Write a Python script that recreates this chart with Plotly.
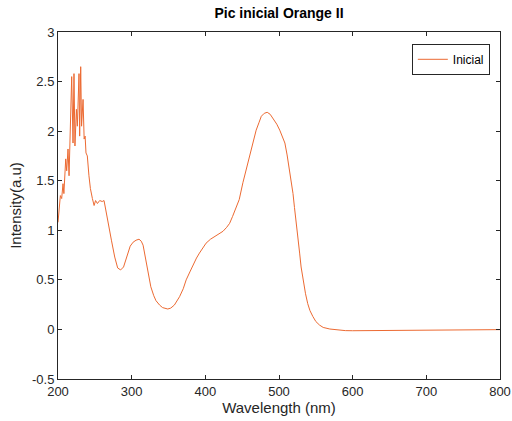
import plotly.graph_objects as go

wavelength = [200, 201.4, 203.2, 205, 206.8, 208, 210.5, 211.8, 213.6, 215, 216.3, 218.6, 220.4, 221.7,
              223, 225, 226.3, 228.5, 229.4, 230.8, 232, 234, 235.5, 236.8, 238, 239.8,
              242, 244, 246.7, 249, 251, 253.5, 256.6, 260, 262.5, 264.7,
              268, 272.5, 277, 281, 285, 289, 292, 295, 298, 302, 306, 310, 313, 315.5, 318,
              322, 326, 330, 333, 338, 342, 349, 353, 358, 365, 370, 374, 379, 383, 388, 392, 397, 401,
              407, 413, 418, 424, 429, 433, 437, 442, 446, 451, 455, 460, 465, 469, 473, 476, 480, 484, 488,
              492, 497, 501, 505, 508, 511, 513.6, 516, 519, 521, 523.6, 526, 528, 530, 532.6, 536,
              539, 542, 546, 550, 555, 560, 569, 580, 590, 600, 650, 700, 750, 800]
intensity = [1.08, 1.20, 1.35, 1.32, 1.47, 1.37, 1.72, 1.60, 1.82, 1.55, 1.85, 2.55, 1.88, 2.58,
             1.85, 2.22, 2.05, 2.58, 1.95, 2.65, 2.05, 2.32, 1.92, 1.95, 1.78, 1.75,
             1.55, 1.42, 1.32, 1.25, 1.30, 1.27, 1.30, 1.29, 1.30, 1.22,
             1.07, 0.90, 0.73, 0.62, 0.60, 0.63, 0.70, 0.77, 0.84, 0.88, 0.90, 0.91, 0.89, 0.85, 0.75,
             0.60, 0.43, 0.34, 0.29, 0.245, 0.22, 0.206, 0.215, 0.246, 0.33, 0.41, 0.50, 0.58, 0.65, 0.72, 0.77, 0.83, 0.87,
             0.91, 0.94, 0.965, 0.99, 1.03, 1.07, 1.14, 1.24, 1.31, 1.48, 1.60, 1.74, 1.88, 2.01, 2.09, 2.15, 2.18, 2.19, 2.17,
             2.13, 2.07, 2.01, 1.94, 1.88, 1.76, 1.64, 1.51, 1.37, 1.23, 1.08, 0.92, 0.77, 0.63, 0.50, 0.36,
             0.26, 0.19, 0.13, 0.08, 0.044, 0.02, 0.004, -0.008, -0.012, -0.013, -0.012, -0.009, -0.005, -0.002]

x_ticks = [200, 300, 400, 500, 600, 700, 800]
y_ticks = [-0.5, 0, 0.5, 1, 1.5, 2, 2.5, 3]
y_tick_labels = ["-0.5", "0", "0.5", "1", "1.5", "2", "2.5", "3"]

FONT = "Liberation Sans, Arial, Helvetica, sans-serif"

fig = go.Figure()
fig.add_trace(go.Scatter(x=wavelength, y=intensity, mode="lines", name="Inicial",
                         line=dict(color="#EC6A32", width=1)))

axis_common = dict(showgrid=False, zeroline=False, showline=True, linecolor="#262626", linewidth=1,
                   mirror="ticks", ticks="inside", ticklen=4, tickcolor="#262626", automargin=False,
                   tickfont=dict(family=FONT, size=13, color="#262626"))

fig.update_layout(
    width=512, height=421,
    margin=dict(l=58, r=12, t=32, b=42),
    paper_bgcolor="white", plot_bgcolor="white",
    title=dict(text="<b>Pic inicial Orange II</b>", x=0.5, xref="paper", xanchor="center",
               y=0.968, yref="container", yanchor="middle", automargin=False,
               font=dict(family=FONT, size=14, color="black")),
    xaxis=dict(range=[200, 800], tickvals=x_ticks,
               title=dict(text="Wavelength (nm)", standoff=2,
                          font=dict(family=FONT, size=15, color="#262626")),
               **axis_common),
    yaxis=dict(range=[-0.5, 3], tickvals=y_ticks, ticktext=y_tick_labels,
               title=dict(text="Intensity(a.u)", standoff=6,
                          font=dict(family=FONT, size=15, color="#262626")),
               **axis_common),
    showlegend=True,
    legend=dict(x=0.977, y=0.966, xanchor="right", yanchor="top", bgcolor="white",
                bordercolor="#262626", borderwidth=1,
                font=dict(family=FONT, size=12, color="black"),
                itemwidth=30, tracegroupgap=0),
)

fig.write_html("out.html", config={"displayModeBar": False},
               post_script="document.body.style.margin='0';document.body.style.overflow='hidden';")
